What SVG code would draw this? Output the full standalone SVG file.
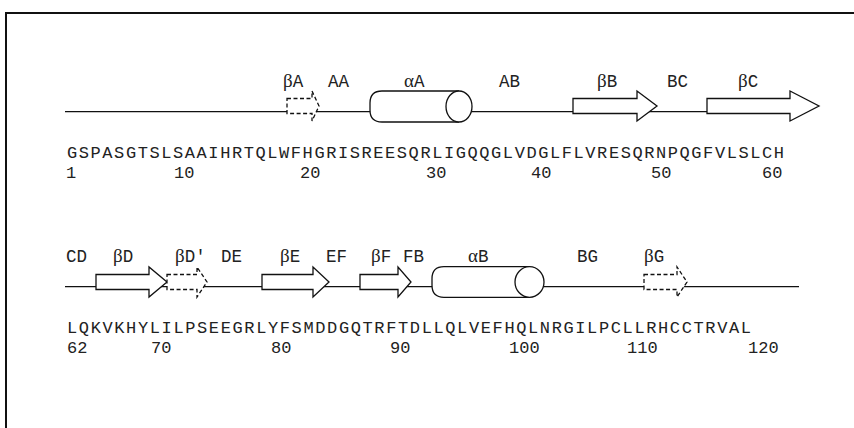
<svg xmlns="http://www.w3.org/2000/svg" width="854" height="428" viewBox="0 0 854 428">
<style>
.bg{fill:#fff}
.frame{fill:none;stroke:#111;stroke-width:2}
.bb{fill:none;stroke:#111;stroke-width:1.3}
.sse{fill:#fff;stroke:#111;stroke-width:1.3;stroke-linejoin:miter}
.dash{stroke-dasharray:4 2.5}
.t{font-family:"Liberation Mono","DejaVu Sans Mono",monospace;font-size:17.5px;fill:#222}
.g{font-family:"Liberation Serif","DejaVu Serif",serif;font-size:19px}
.seq{font-family:"Liberation Mono","DejaVu Sans Mono",monospace;font-size:17px;fill:#222}
</style>
<rect class="bg" x="0" y="0" width="854" height="428"/>
<path class="frame" d="M6,428 V13 H854"/>
<g id="connectors">
<line class="bb" x1="65" y1="111.7" x2="707" y2="111.7"/>
<line class="bb" x1="65" y1="286.7" x2="799" y2="286.7"/>
</g>
<g id="betaA"><path class="sse dash" d="M287,98.5 H312 V91 L319,106 L312,121 V113.5 H287 Z"/><text class="t" x="283" y="86.5"><tspan class="g">β</tspan>A</text></g>
<g id="AA"><text class="t" x="328" y="86.5">AA</text></g>
<g id="alphaA"><path class="sse" d="M459,91 H382 Q370,91 370,103 V110 Q370,122 382,122 H459"/><ellipse class="sse" cx="459" cy="106.5" rx="13" ry="15.5"/><text class="t" x="404" y="86.5"><tspan class="g">α</tspan>A</text></g>
<g id="AB"><text class="t" x="499" y="86.5">AB</text></g>
<g id="betaB"><path class="sse" d="M573,98.5 H637 V91 L657,106 L637,121 V113.5 H573 Z"/><text class="t" x="597" y="86.5"><tspan class="g">β</tspan>B</text></g>
<g id="BC"><text class="t" x="667" y="86.5">BC</text></g>
<g id="betaC"><path class="sse" d="M707,98.5 H790 V91 L819,106 L790,121 V113.5 H707 Z"/><text class="t" x="738" y="86.5"><tspan class="g">β</tspan>C</text></g>
<g id="seq1">
<text class="seq" x="67" y="158" textLength="717" lengthAdjust="spacing">GSPASGTSLSAAIHRTQLWFHGRISREESQRLIGQQGLVDGLFLVRESQRNPQGFVLSLCH</text>
<text class="seq" x="66" y="178">1</text>
<text class="seq" x="174" y="178">10</text>
<text class="seq" x="300" y="178">20</text>
<text class="seq" x="426" y="178">30</text>
<text class="seq" x="531" y="178">40</text>
<text class="seq" x="651" y="178">50</text>
<text class="seq" x="762" y="178">60</text>
</g>
<g id="CD"><text class="t" x="66" y="261.5">CD</text></g>
<g id="betaD"><path class="sse" d="M96,274.5 H149 V267 L167,282 L149,297 V289.5 H96 Z"/><text class="t" x="113" y="261.5"><tspan class="g">β</tspan>D</text></g>
<g id="betaDp"><path class="sse dash" d="M167,274.5 H197 V267 L207,282 L197,297 V289.5 H167 Z"/><text class="t" x="175" y="261.5"><tspan class="g">β</tspan>D′</text></g>
<g id="DE"><text class="t" x="221" y="261.5">DE</text></g>
<g id="betaE"><path class="sse" d="M262,274.5 H313 V267 L329,282 L313,297 V289.5 H262 Z"/><text class="t" x="280" y="261.5"><tspan class="g">β</tspan>E</text></g>
<g id="EF"><text class="t" x="326" y="261.5">EF</text></g>
<g id="betaF"><path class="sse" d="M360,274.5 H398 V267 L411,282 L398,297 V289.5 H360 Z"/><text class="t" x="371" y="261.5"><tspan class="g">β</tspan>F</text></g>
<g id="FB"><text class="t" x="403" y="261.5">FB</text></g>
<g id="alphaB"><path class="sse" d="M529.5,266.7 H444 Q432,266.7 432,278.7 V285.3 Q432,297.3 444,297.3 H529.5"/><ellipse class="sse" cx="529.5" cy="282" rx="14.5" ry="15.3"/><text class="t" x="468" y="261.5"><tspan class="g">α</tspan>B</text></g>
<g id="BG"><text class="t" x="577" y="261.5">BG</text></g>
<g id="betaG"><path class="sse dash" d="M644,274.5 H677 V267 L687,282 L677,297 V289.5 H644 Z"/><text class="t" x="644" y="261.5"><tspan class="g">β</tspan>G</text></g>
<g id="seq2">
<text class="seq" x="67" y="332.5" textLength="684" lengthAdjust="spacing">LQKVKHYLILPSEEGRLYFSMDDGQTRFTDLLQLVEFHQLNRGILPCLLRHCCTRVAL</text>
<text class="seq" x="67" y="352.5">62</text>
<text class="seq" x="151" y="352.5">70</text>
<text class="seq" x="271" y="352.5">80</text>
<text class="seq" x="390" y="352.5">90</text>
<text class="seq" x="509" y="352.5">100</text>
<text class="seq" x="627" y="352.5">110</text>
<text class="seq" x="748" y="352.5">120</text>
</g>
</svg>
